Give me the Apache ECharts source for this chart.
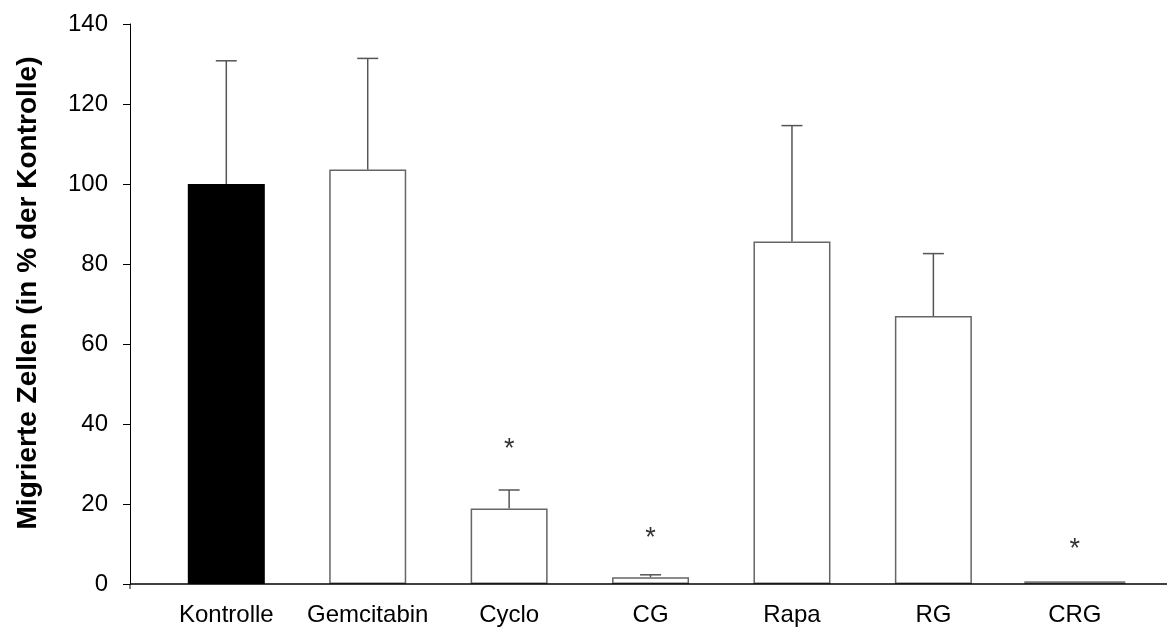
<!DOCTYPE html>
<html>
<head>
<meta charset="utf-8">
<title>Migrierte Zellen</title>
<script src="https://cdn.jsdelivr.net/npm/echarts@6/dist/echarts.min.js"></script>
<style>
  html, body { margin: 0; padding: 0; background: #fff; }
  #chart { width: 1167px; height: 627px; }
</style>
</head>
<body>
<div id="chart"></div>
<script>
// Werte
const categories = ["Kontrolle", "Gemcitabin", "Cyclo", "CG", "Rapa", "RG", "CRG"];
const means = [100, 103.6, 18.9, 1.7, 85.6, 67.0, 0.7];
const sd = [30.8, 27.8, 4.6, 0.6, 29.0, 15.6, 0];
// CRG ist im Original breiter gezeichnet
const wideBar = [false, false, false, false, false, false, true];
// Signifikanz-Sterne: [Kategorie, Hoehe]
const stars = [[2, 33.6], [3, 11.4], [6, 8.5]];
const yTicks = { min: 0, max: 140, interval: 20 };

const font = "Liberation Sans, Arial, sans-serif";

let chart = echarts.init(document.getElementById("chart"));

let narrowData = means.map((v, i) => {
  if (wideBar[i]) return "-";
  return {
    value: v,
    itemStyle: i === 0 ? { color: "#000", borderColor: "#000" } : {},
  };
});
let wideData = means.map((v, i) => (wideBar[i] ? v : "-"));
let errData = means.map((v, i) => [i, v, v + sd[i]]);

chart.setOption({
  animation: false,
  grid: { left: 155.6, right: 21.5, top: 24, bottom: 42 },
  xAxis: [
    {
      type: "category",
      data: categories,
      axisLine: { show: false },
      axisTick: { show: false },
      axisLabel: { interval: 0, fontSize: 24, color: "#000", fontFamily: font, margin: 19 },
    },
    { type: "category", data: categories, show: false },
  ],
  yAxis: {
    type: "value",
    min: yTicks.min,
    max: yTicks.max,
    interval: yTicks.interval,
    offset: 25.6,
    splitLine: { show: false },
    axisLine: { show: true, lineStyle: { color: "#000", width: 1 } },
    axisTick: { show: true, length: 7, lineStyle: { color: "#000" } },
    axisLabel: { fontSize: 24, color: "#000", fontFamily: font, margin: 22 },
    name: "Migrierte Zellen (in % der Kontrolle)",
    nameLocation: "middle",
    nameGap: 88,
    nameTextStyle: {
      fontSize: 28,
      fontWeight: "bold",
      color: "#000",
      fontFamily: font,
      padding: [0, 0, 0, 22],
    },
  },
  series: [
    {
      type: "bar",
      xAxisIndex: 0,
      barWidth: 77,
      data: narrowData,
      itemStyle: { color: "#fff", borderColor: "#666", borderWidth: 1.5 },
    },
    {
      type: "bar",
      xAxisIndex: 1,
      barWidth: 101,
      data: wideData,
      itemStyle: { color: "#fff", borderColor: "#777", borderWidth: 1.5 },
    },
    {
      type: "custom",
      xAxisIndex: 0,
      data: errData,
      z: 5,
      renderItem: function (params, api) {
        let x = api.value(0);
        let lo = api.coord([x, api.value(1)]);
        let hi = api.coord([x, api.value(2)]);
        if (Math.abs(lo[1] - hi[1]) < 1) return null;
        let style = { stroke: "#555", lineWidth: 1.5 };
        return {
          type: "group",
          children: [
            { type: "line", shape: { x1: lo[0], y1: lo[1], x2: hi[0], y2: hi[1] }, style: style },
            { type: "line", shape: { x1: hi[0] - 10.5, y1: hi[1], x2: hi[0] + 10.5, y2: hi[1] }, style: style },
          ],
        };
      },
    },
    {
      type: "scatter",
      xAxisIndex: 0,
      data: stars,
      symbolSize: 0,
      label: {
        show: true,
        position: "inside",
        formatter: "*",
        fontSize: 27,
        color: "#000",
        fontFamily: font,
      },
    },
  ],
});

// x-Achsenlinie ueber die ganze Breite, wie im Original
let y0 = chart.convertToPixel({ yAxisIndex: 0 }, 0);
chart.setOption({
  graphic: [
    { type: "line", shape: { x1: 130, y1: y0, x2: 1167, y2: y0 }, style: { stroke: "#000", lineWidth: 1.5 }, z: 10 },
    { type: "line", shape: { x1: 130, y1: y0, x2: 130, y2: y0 + 5 }, style: { stroke: "#000", lineWidth: 1 }, z: 10 },
  ],
});
</script>
</body>
</html>
